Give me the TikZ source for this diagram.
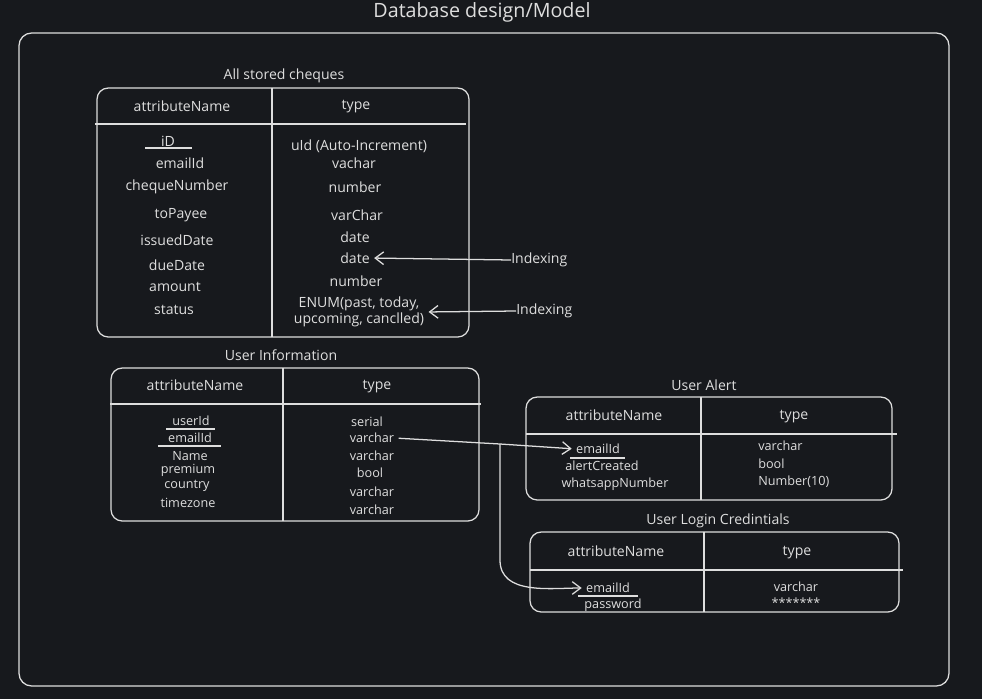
\documentclass[tikz,border=0pt]{standalone}
\usepackage{fontspec}
\setmainfont{Open Sans}
\usetikzlibrary{arrows.meta}
\definecolor{bg}{RGB}{23,25,29}
\definecolor{ink}{RGB}{222,222,222}
\tikzset{
  tbl/.style={draw=ink, line width=0.9pt, rounded corners=8pt},
  rule/.style={draw=ink, line width=0.9pt},
  ttl/.style={text=ink, font=\fontsize{10}{12}\selectfont, inner sep=0pt},
  hdr/.style={text=ink, font=\fontsize{10}{12}\selectfont, inner sep=0pt},
  cell/.style={text=ink, font=\fontsize{10}{11.5}\selectfont, inner sep=0pt},
  small/.style={text=ink, font=\fontsize{9}{10}\selectfont, inner sep=0pt},
  link/.style={draw=ink, line width=0.9pt, -{Straight Barb[length=6pt,width=9pt]}},
}
\begin{document}
\begin{tikzpicture}[x=0.025cm, y=-0.025cm]

%background and frame
\fill [bg] (0,0) rectangle (982,699) ;
\useasboundingbox (0,0) rectangle (982,699) ;
\node [ttl, font=\fontsize{14}{16}\selectfont] (title) at (482,12) {Database design/Model} ;
\draw [tbl, rounded corners=9pt] (19,33) rectangle (949,686) ;

%first table: all stored cheques
\node [ttl] (chqTitle) at (284,76) {All stored cheques} ;
\draw [tbl] (97,88) rectangle (469,337) ;
\draw [rule] (272,88) -- (272,337) ;
\draw [rule] (95,124) -- (466,124) ;
\node [hdr] (chqAttr) at (182,106) {attributeName} ;
\node [hdr] (chqType) at (356,107) {type} ;

%first table rows
\node [cell] (chqId) at (168,141) {iD} ;
\draw [rule] (145,148) -- (192,148) ;
\node [cell] (chqEmail) at (180,163) {emailId} ;
\node [cell] (chqNumber) at (177,187) {chequeNumber} ;
\node [cell] (chqPayee) at (181,215) {toPayee} ;
\node [cell] (chqIssued) at (177,240) {issuedDate} ;
\node [cell] (chqDue) at (177,265) {dueDate} ;
\node [cell] (chqAmount) at (175,287) {amount} ;
\node [cell] (chqStatus) at (174,310) {status} ;

\node [cell] (chqIdType) at (359,146) {uId (Auto-Increment)} ;
\node [cell] (chqEmailType) at (354,163) {vachar} ;
\node [cell] (chqNumberType) at (355,187) {number} ;
\node [cell] (chqPayeeType) at (357,215) {varChar} ;
\node [cell] (chqIssuedType) at (355,237) {date} ;
\node [cell] (chqDueType) at (355,258) {date} ;
\node [cell] (chqAmountType) at (356,281) {number} ;
\node [cell, align=center] (chqStatusType) at (359,312) {ENUM(past, today,\\upcoming, canclled)} ;

%indexing notes
\node [cell, anchor=west] (idxDue) at (511,260) {Indexing} ;
\node [cell, anchor=west] (idxStatus) at (516,311) {Indexing} ;
\draw [link, shorten >=3pt] (idxDue.west) -- (chqDueType.east) ;
\draw [link, shorten >=3pt] (idxStatus.west) -- (chqStatusType.east) ;

%second table: user information
\node [ttl] (uiTitle) at (281,355) {User Information} ;
\draw [tbl] (111,368) rectangle (479,521) ;
\draw [rule] (283,368) -- (283,521) ;
\draw [rule] (110,404) -- (481,404) ;
\node [hdr] (uiAttr) at (195,385) {attributeName} ;
\node [hdr] (uiType) at (377,387) {type} ;

%second table rows
\node [small] (uiUser) at (191,421) {userId} ;
\draw [rule] (166,429) -- (215,429) ;
\node [small] (uiEmail) at (190,438) {emailId} ;
\draw [rule] (158,446) -- (221,446) ;
\node [small] (uiName) at (190,456) {Name} ;
\node [small] (uiPremium) at (188,470) {premium} ;
\node [small] (uiCountry) at (187,486) {country} ;
\node [small] (uiZone) at (188,503) {timezone} ;

\node [small] (uiUserType) at (367,422) {serial} ;
\node [small] (uiEmailType) at (372,438) {varchar} ;
\node [small] (uiNameType) at (372,456) {varchar} ;
\node [small] (uiPremiumType) at (370,473) {bool} ;
\node [small] (uiCountryType) at (372,492) {varchar} ;
\node [small] (uiZoneType) at (372,510) {varchar} ;

%third table: user alert
\node [ttl] (uaTitle) at (704,385) {User Alert} ;
\draw [tbl] (526,397) rectangle (892,500) ;
\draw [rule] (701,397) -- (701,500) ;
\draw [rule] (526,434) -- (897,434) ;
\node [hdr] (uaAttr) at (614,415) {attributeName} ;
\node [hdr] (uaType) at (794,417) {type} ;

%third table rows
\node [small] (uaEmail) at (598,449) {emailId} ;
\draw [rule] (570,458) -- (625,458) ;
\node [small] (uaCreated) at (602,466) {alertCreated} ;
\node [small] (uaPhone) at (615,484) {whatsappNumber} ;

\node [small, anchor=west] (uaEmailType) at (758,446) {varchar} ;
\node [small, anchor=west] (uaCreatedType) at (758,464) {bool} ;
\node [small, anchor=west] (uaPhoneType) at (758,482) {Number(10)} ;

%fourth table: user login credintials
\node [ttl] (ulTitle) at (718,521) {User Login Credintials} ;
\draw [tbl] (530,532) rectangle (899,612) ;
\draw [rule] (704,532) -- (704,612) ;
\draw [rule] (530,570) -- (903,570) ;
\node [hdr] (ulAttr) at (616,551) {attributeName} ;
\node [hdr] (ulType) at (797,553) {type} ;

%fourth table rows
\node [small] (ulEmail) at (608,588) {emailId} ;
\draw [rule] (578,596) -- (638,596) ;
\node [small] (ulPass) at (613,605) {password} ;

\node [small] (ulEmailType) at (796,587) {varchar} ;
\node [small] (ulPassType) at (796,603) {*******} ;

%email links
\coordinate (split) at (500,444) ;
\coordinate (bend) at (500,560) ;
\draw [rule, shorten <=3pt] (uiEmailType.east) -- (split) ;
\draw [link, shorten >=3pt] (split) -- (uaEmail.west) ;
\draw [link, shorten >=3pt] (split) -- (bend) to [out=-90, in=180] (ulEmail.west) ;

\end{tikzpicture}
\end{document}
